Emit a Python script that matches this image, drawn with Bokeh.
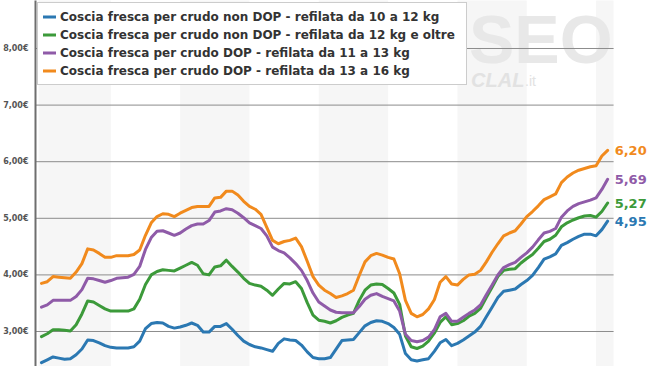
from bokeh.plotting import figure
from bokeh.models import FixedTicker, Legend, LegendItem, Label, Range1d
from bokeh.embed import file_html
from bokeh.resources import INLINE
from bokeh.core.properties import value

# monthly observations (index 0 .. 98)
months = list(range(99))

blue = [2.45, 2.50, 2.55, 2.53, 2.51, 2.52, 2.59, 2.69, 2.85, 2.84, 2.80, 2.75,
        2.72, 2.71, 2.71, 2.71, 2.73, 2.83, 3.05, 3.14, 3.16, 3.15, 3.09, 3.06,
        3.08, 3.11, 3.15, 3.11, 2.99, 2.99, 3.09, 3.09, 3.14, 3.04, 2.93, 2.83,
        2.77, 2.73, 2.71, 2.68, 2.65, 2.79, 2.87, 2.85, 2.84, 2.76, 2.64, 2.54,
        2.52, 2.52, 2.54, 2.69, 2.84, 2.85, 2.86, 2.98, 3.10, 3.16, 3.19, 3.18,
        3.14, 3.07, 2.95, 2.61, 2.50, 2.48, 2.50, 2.52, 2.65, 2.80, 2.86, 2.75,
        2.79, 2.85, 2.92, 2.99, 3.09, 3.26, 3.43, 3.60, 3.71, 3.73, 3.75, 3.83,
        3.90, 3.99, 4.13, 4.28, 4.32, 4.37, 4.52, 4.57, 4.63, 4.68, 4.72, 4.72,
        4.69, 4.80, 4.95]

green = [2.91, 2.96, 3.03, 3.03, 3.02, 3.01, 3.12, 3.31, 3.54, 3.52, 3.46, 3.40,
         3.36, 3.36, 3.36, 3.36, 3.40, 3.57, 3.83, 4.00, 4.06, 4.09, 4.08, 4.07,
         4.12, 4.17, 4.22, 4.17, 4.02, 4.00, 4.14, 4.16, 4.26, 4.15, 4.05, 3.94,
         3.85, 3.82, 3.80, 3.73, 3.64, 3.75, 3.85, 3.84, 3.88, 3.76, 3.51, 3.29,
         3.20, 3.18, 3.15, 3.19, 3.25, 3.29, 3.32, 3.55, 3.73, 3.82, 3.84, 3.83,
         3.76, 3.68, 3.48, 2.92, 2.73, 2.70, 2.74, 2.83, 2.97, 3.16, 3.26, 3.12,
         3.14, 3.19, 3.27, 3.32, 3.41, 3.60, 3.78, 3.97, 4.08, 4.10, 4.11, 4.21,
         4.29, 4.36, 4.47, 4.59, 4.63, 4.70, 4.85, 4.92, 4.97, 5.01, 5.04, 5.05,
         5.02, 5.12, 5.27]

purple = [3.43, 3.47, 3.55, 3.55, 3.55, 3.55, 3.62, 3.74, 3.94, 3.93, 3.90, 3.87,
          3.90, 3.94, 3.95, 3.96, 4.01, 4.15, 4.45, 4.66, 4.77, 4.78, 4.74, 4.70,
          4.74, 4.81, 4.87, 4.90, 4.90, 4.96, 5.11, 5.13, 5.17, 5.15, 5.09, 5.01,
          4.92, 4.87, 4.82, 4.69, 4.49, 4.43, 4.39, 4.30, 4.20, 4.08, 3.90, 3.68,
          3.52, 3.45, 3.38, 3.34, 3.33, 3.33, 3.33, 3.44, 3.57, 3.64, 3.67, 3.62,
          3.58, 3.54, 3.36, 2.95, 2.84, 2.82, 2.84, 2.90, 3.03, 3.26, 3.32, 3.18,
          3.18, 3.25, 3.32, 3.38, 3.47, 3.65, 3.82, 4.00, 4.13, 4.18, 4.22, 4.31,
          4.39, 4.49, 4.62, 4.74, 4.77, 4.82, 5.02, 5.13, 5.21, 5.26, 5.29, 5.32,
          5.36, 5.51, 5.69]

orange = [3.85, 3.88, 3.97, 3.96, 3.95, 3.94, 4.05, 4.20, 4.46, 4.44, 4.38, 4.31,
          4.31, 4.34, 4.34, 4.34, 4.36, 4.44, 4.70, 4.92, 5.03, 5.08, 5.07, 5.03,
          5.09, 5.14, 5.19, 5.21, 5.21, 5.21, 5.36, 5.37, 5.48, 5.48, 5.41, 5.30,
          5.21, 5.16, 5.07, 4.84, 4.61, 4.55, 4.59, 4.61, 4.65, 4.50, 4.24, 3.97,
          3.82, 3.73, 3.67, 3.60, 3.63, 3.67, 3.73, 3.99, 4.23, 4.34, 4.38, 4.35,
          4.31, 4.28, 4.02, 3.55, 3.32, 3.26, 3.30, 3.40, 3.56, 3.87, 3.97, 3.84,
          3.82, 3.92, 4.00, 4.01, 4.08, 4.23, 4.40, 4.55, 4.69, 4.74, 4.78, 4.90,
          5.03, 5.12, 5.22, 5.33, 5.38, 5.43, 5.63, 5.73, 5.80, 5.85, 5.88, 5.91,
          5.93, 6.10, 6.20]

series_names = [
    "Coscia fresca per crudo non DOP - refilata da 10 a 12 kg",
    "Coscia fresca per crudo non DOP - refilata da 12 kg e oltre",
    "Coscia fresca per crudo DOP - refilata da 11 a 13 kg",
    "Coscia fresca per crudo DOP - refilata da 13 a 16 kg",
]
series_values = [blue, green, purple, orange]
series_colors = ["#2b78b2", "#3c9a3a", "#8f5ba8", "#f18a1d"]

y_ticks = [3, 4, 5, 6, 7, 8]
y_tick_labels = {t: ("%.2f€" % t).replace(".", ",") for t in y_ticks}

months_per_year = 12
n_years = 9

X_START, X_END, X_DATA_END = -1.035, 105.42, 99.03
p = figure(width=650, height=366, output_backend="svg", toolbar_location=None,
           x_range=Range1d(X_START, X_END), y_range=Range1d(2.3816, 8.848),
           x_axis_location=None, min_border_left=33, min_border_right=0,
           min_border_top=0, min_border_bottom=0)
p.outline_line_color = None
p.background_fill_color = "white"
p.border_fill_color = "white"
p.xgrid.visible = False
p.ygrid.visible = False

# alternating year bands
band_left = []
band_right = []
for k in range(0, n_years, 2):
    band_left.append(k * months_per_year)
    band_right.append(min((k + 1) * months_per_year, X_DATA_END))
band_left[0] = -0.5
p.quad(left=band_left, right=band_right, bottom=0, top=10,
       fill_color="#f6f6f6", line_color=None, level="image")

# watermark
p.text(x=[98.86], y=[8.17], text=["TESEO"], text_font=value("Liberation Sans"),
       text_font_style="bold", text_font_size="68px", text_color="#e8e8e8",
       text_align="right", text_baseline="middle", level="image")
p.text(x=[74.36], y=[7.45], text=["CLAL"], text_font=value("Liberation Sans"),
       text_font_style="bold italic", text_font_size="20px", text_color="#e2e2e2",
       text_align="left", text_baseline="middle", level="image")
p.text(x=[83.7], y=[7.42], text=[".it"], text_font=value("Liberation Sans"),
       text_font_size="14px", text_color="#e2e2e2",
       text_align="left", text_baseline="middle", level="image")

# horizontal grid lines
p.segment(x0=[X_START] * len(y_ticks), x1=[X_DATA_END] * len(y_ticks),
          y0=y_ticks, y1=y_ticks, line_color="#8c8c8c", line_width=1)

# y axis
p.yaxis.ticker = FixedTicker(ticks=y_ticks)
p.yaxis.major_label_overrides = y_tick_labels
p.yaxis.major_label_text_font = "DejaVu Sans"
p.yaxis.major_label_text_font_style = "bold"
p.yaxis.major_label_text_font_size = "8px"
p.yaxis.major_label_text_color = "#555555"
p.yaxis.major_label_standoff = 7
p.yaxis.major_tick_in = 0
p.yaxis.major_tick_out = 0
p.yaxis.minor_tick_in = 0
p.yaxis.minor_tick_out = 0
p.yaxis.axis_line_color = "#6e6e6e"
p.yaxis.axis_line_width = 2

items = []
for name, vals, col in zip(series_names, series_values, series_colors):
    r = p.line(months, vals, line_color=col, line_width=3, line_join="round", line_cap="round")
    items.append(LegendItem(label=name, renderers=[r]))
    last = vals[-1]
    p.add_layout(Label(x=months[-1], y=last, x_offset=7,
                       text=("%.2f" % last).replace(".", ","),
                       text_font="DejaVu Sans", text_font_style="bold",
                       text_font_size="13px", text_color=col,
                       text_baseline="middle", text_align="left"))

legend = Legend(items=items, location="top_left")
legend.label_text_font = "DejaVu Sans"
legend.label_text_font_style = "bold"
legend.label_text_font_size = "12px"
legend.label_text_color = "#333333"
legend.glyph_width = 13
legend.glyph_height = 17
legend.label_height = 17
legend.label_standoff = 4
legend.label_width = 401
legend.spacing = 1
legend.padding = 5
legend.margin = 2
legend.border_line_color = "#999999"
legend.border_line_width = 1
legend.background_fill_color = "white"
legend.background_fill_alpha = 1.0
p.add_layout(legend)

open("out.html", "w").write(file_html(p, INLINE))
